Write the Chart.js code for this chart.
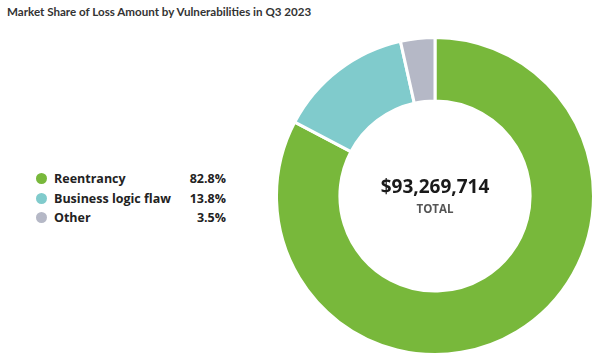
<!DOCTYPE html>
<html>
<head>
<meta charset="utf-8">
<script src="https://cdn.jsdelivr.net/npm/chart.js@4"></script>
<style>
  body { margin: 0; background: #fff; font-family: "Open Sans", "Noto Sans", sans-serif; }
  #wrap { position: relative; width: 600px; height: 364px; overflow: hidden; }
  #titulo { position: absolute; left: 7px; top: 5px; font-family: Lato, sans-serif; font-size: 11.6px; font-weight: 700; color: #333; }
  #grafico { position: absolute; left: 275px; top: 36px; }
  #legenda { position: absolute; left: 36px; top: 169px; width: 190px; }
  .item { display: flex; align-items: center; height: 19.5px; font-size: 12.5px; font-weight: 700; color: #222; }
  .ponto { width: 11px; height: 11px; border-radius: 50%; margin-right: 7px; }
  .nome { flex: 1; }
  #centro { position: absolute; left: 335px; width: 200px; top: 173px; text-align: center; }
  #total { font-size: 19px; font-weight: 700; color: #1a1a1a; line-height: 26px; }
  #rotulo { font-size: 11.5px; font-weight: 700; color: #555; margin-top: 2px; }
</style>
</head>
<body>
<div id="wrap">
  <div id="titulo">Market Share of Loss Amount by Vulnerabilities in Q3 2023</div>
  <canvas id="grafico" width="320" height="320"></canvas>
  <div id="legenda"></div>
  <div id="centro">
    <div id="total"></div>
    <div id="rotulo">TOTAL</div>
  </div>
</div>
<script>
// dados do gráfico
const categorias = ["Reentrancy", "Business logic flaw", "Other"];
const percentuais = [82.8, 13.8, 3.5];
const cores = ["#78b83b", "#80cbcc", "#b5b8c6"];
const totalPerda = "$93,269,714";

document.getElementById("total").textContent = totalPerda;

// legenda em HTML
const legenda = document.getElementById("legenda");
categorias.forEach((nome, i) => {
  const linha = document.createElement("div");
  linha.className = "item";
  linha.innerHTML = `<span class="ponto" style="background:${cores[i]}"></span>
    <span class="nome">${nome}</span><span>${percentuais[i].toFixed(1)}%</span>`;
  legenda.appendChild(linha);
});

new Chart(document.getElementById("grafico"), {
  type: "doughnut",
  data: {
    labels: categorias,
    datasets: [{
      data: percentuais,
      backgroundColor: cores,
      borderColor: "#fff",
      borderWidth: 3,
      hoverOffset: 0
    }]
  },
  options: {
    responsive: false,
    animation: false,
    cutout: "60%",
    layout: { padding: 0 },
    plugins: {
      legend: { display: false },
      tooltip: { enabled: false }
    }
  }
});
</script>
</body>
</html>
